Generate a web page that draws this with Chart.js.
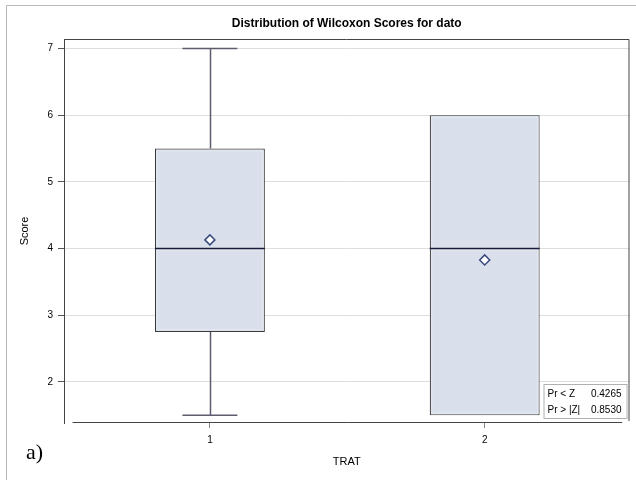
<!DOCTYPE html>
<html>
<head>
<meta charset="utf-8">
<script src="https://cdn.jsdelivr.net/npm/chart.js@4/dist/chart.umd.min.js"></script>
<style>
  body { margin: 0; background: #fff; }
  canvas { display: block; }
</style>
</head>
<body>
<canvas id="chart" width="636" height="480"></canvas>
<script>
// box plot values per TRAT group
const groups = ['1', '2']
const groupX = [1, 2]
const minVals = [1.5, 1.5]
const q1Vals = [2.75, 1.5]
const medVals = [4, 4]
const q3Vals = [5.5, 6]
const maxVals = [7, 6]
const meanVals = [4.13, 3.83]
const yTicks = [2, 3, 4, 5, 6, 7]
const statLabels = ['Pr < Z', 'Pr > |Z|']
const statValues = ['0.4265', '0.8530']

const font = "'Liberation Sans', Arial, sans-serif"
const capHalf = 0.1

const boxExtras = {
   id: 'boxExtras',
   beforeDraw(chart) {
      const ctx = chart.ctx
      ctx.save()
      ctx.strokeStyle = '#b9b9b9'
      ctx.lineWidth = 1
      ctx.beginPath()
      ctx.moveTo(6.5, 480)
      ctx.lineTo(6.5, 5.5)
      ctx.lineTo(636, 5.5)
      ctx.stroke()
      ctx.font = "22px 'Liberation Serif', 'Times New Roman', serif"
      ctx.fillStyle = '#000'
      ctx.textBaseline = 'alphabetic'
      ctx.fillText('a)', 26, 459)
      ctx.restore()
   },
   beforeDatasetsDraw(chart) {
      const {ctx, scales: {x, y}} = chart
      ctx.save()
      ctx.strokeStyle = '#5c5c6e'
      ctx.lineWidth = 1.5
      groupX.forEach((g, i) => {
         const cx = Math.round(x.getPixelForValue(g)) + 0.5
         const l = x.getPixelForValue(g - capHalf)
         const r = x.getPixelForValue(g + capHalf)
         ctx.beginPath()
         if (maxVals[i] > q3Vals[i]) {
            const top = y.getPixelForValue(maxVals[i])
            ctx.moveTo(cx, top)
            ctx.lineTo(cx, y.getPixelForValue(q3Vals[i]))
            ctx.moveTo(l, top)
            ctx.lineTo(r, top)
         }
         if (minVals[i] < q1Vals[i]) {
            const bot = y.getPixelForValue(minVals[i])
            ctx.moveTo(cx, bot)
            ctx.lineTo(cx, y.getPixelForValue(q1Vals[i]))
            ctx.moveTo(l, bot)
            ctx.lineTo(r, bot)
         }
         ctx.stroke()
      })
      ctx.restore()
   },
   afterDatasetsDraw(chart) {
      const {ctx, chartArea: a, scales: {x, y}} = chart
      ctx.save()
      // wall frame top and right
      ctx.strokeStyle = '#444'
      ctx.lineWidth = 1
      ctx.beginPath()
      ctx.moveTo(a.left, a.top + 0.5)
      ctx.lineTo(a.right - 0.5, a.top + 0.5)
      ctx.lineTo(a.right - 0.5, a.bottom - 2)
      ctx.stroke()
      // x axis line over the category range
      ctx.beginPath()
      ctx.moveTo(x.getPixelForValue(0.5), a.bottom - 0.5)
      ctx.lineTo(x.getPixelForValue(2.5), a.bottom - 0.5)
      ctx.stroke()

      // lighter rim inside each box half, then the median
      const bars = chart.getDatasetMeta(0).data
      bars.forEach((bar, i) => {
         const left = bar.x - bar.width / 2
         const right = bar.x + bar.width / 2
         const top = Math.min(bar.y, bar.base)
         const bottom = Math.max(bar.y, bar.base)
         const med = y.getPixelForValue(medVals[i])
         ctx.strokeStyle = '#e2e7ef'
         ctx.lineWidth = 1.5
         ctx.strokeRect(left + 2, top + 2, right - left - 4, med - top - 3)
         ctx.strokeRect(left + 2, med + 1.5, right - left - 4, bottom - med - 3.5)
         ctx.strokeStyle = '#1a1a3a'
         ctx.lineWidth = 1.5
         ctx.beginPath()
         ctx.moveTo(left, med)
         ctx.lineTo(right, med)
         ctx.stroke()
      })

      // statistics inset
      const w = 83, h = 34
      const bx = a.right - 3 - w, by = a.bottom - 5 - h
      ctx.fillStyle = '#fff'
      ctx.fillRect(bx, by, w, h)
      ctx.strokeStyle = '#b0b0b0'
      ctx.lineWidth = 1
      ctx.strokeRect(bx + 0.5, by + 0.5, w, h)
      ctx.font = '10px ' + font
      ctx.fillStyle = '#000'
      ctx.textBaseline = 'middle'
      statLabels.forEach((s, i) => {
         const ty = by + 10 + i * 16
         ctx.textAlign = 'left'
         ctx.fillText(s, bx + 4, ty)
         ctx.textAlign = 'right'
         ctx.fillText(statValues[i], bx + w - 5, ty)
      })
      ctx.restore()
   }
}

new Chart(document.getElementById('chart'), {
   type: 'bar',
   data: {
      datasets: [{
         type: 'bar',
         order: 1,
         data: groupX.map((g, i) => ({x: g, y: [q1Vals[i], q3Vals[i]]})),
         backgroundColor: '#d9e0eb',
         borderColor: '#3a3a3a',
         borderWidth: 1.2,
         borderSkipped: false,
         barPercentage: 0.4,
         categoryPercentage: 1,
      }, {
         type: 'line',
         order: 0,
         data: groupX.map((g, i) => ({x: g, y: meanVals[i]})),
         showLine: false,
         pointStyle: 'rectRot',
         pointRadius: 5,
         borderWidth: 1.5,
         borderColor: '#3a4a7e',
         backgroundColor: '#fff',
      }]
   },
   options: {
      responsive: false,
      animation: false,
      devicePixelRatio: 1,
      layout: {padding: {left: 0, right: 4, top: 0, bottom: 0}},
      plugins: {
         legend: {display: false},
         tooltip: {enabled: false},
         title: {
            display: true,
            fullSize: false,
            text: 'Distribution of Wilcoxon Scores for dato',
            color: '#000',
            font: {family: font, size: 12, weight: 'bold'},
            padding: {top: 16, bottom: 8.6},
         }
      },
      scales: {
         x: {
            type: 'linear',
            offset: false,
            min: 0.469,
            max: 2.527,
            afterBuildTicks: (scale) => { scale.ticks = groupX.map(v => ({value: v})) },
            afterFit: (scale) => { scale.height = 57 },
            grid: {offset: false, drawOnChartArea: false, tickLength: 5, tickColor: '#888'},
            border: {display: false},
            ticks: {
               callback: (v) => groups[groupX.indexOf(v)],
               color: '#000',
               font: {family: font, size: 10},
               padding: 6,
               maxRotation: 0,
            },
            title: {
               display: true,
               text: 'TRAT',
               color: '#000',
               font: {family: font, size: 11},
               padding: {top: 0, bottom: 11.4},
            }
         },
         y: {
            min: 1.385,
            max: 7.142,
            afterBuildTicks: (scale) => { scale.ticks = yTicks.map(v => ({value: v})) },
            afterFit: (scale) => { scale.width = 64 },
            grid: {color: '#dedede', tickLength: 6, tickColor: '#555'},
            border: {display: true, color: '#444', width: 1},
            ticks: {
               color: '#000',
               font: {family: font, size: 10},
               padding: 5,
            },
            title: {
               display: true,
               text: 'Score',
               color: '#000',
               font: {family: font, size: 11},
               padding: {top: 18, bottom: 0},
            }
         }
      }
   },
   plugins: [boxExtras]
})
</script>
</body>
</html>
